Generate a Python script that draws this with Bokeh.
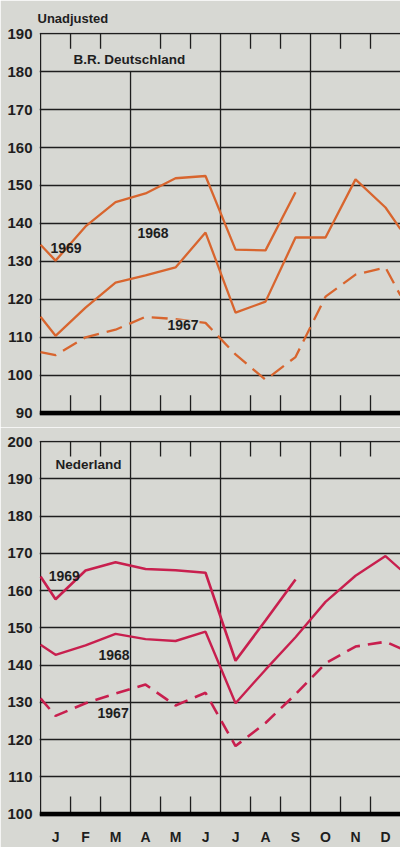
from bokeh.plotting import figure
from bokeh.models import Range1d, FixedTicker, Label, Span
from bokeh.layouts import column
from bokeh.embed import file_html
from bokeh.resources import INLINE

# ---------------- data ----------------
months = ["J", "F", "M", "A", "M", "J", "J", "A", "S", "O", "N", "D"]

# B.R. Deutschland (index, unadjusted)
de_1969_start = 134.4
de_1969 = [130.2, 139.2, 145.6, 147.9, 151.9, 152.5, 133.1, 132.9, 148.2]
de_1968_start = 115.4
de_1968 = [110.4, 117.8, 124.4, 126.3, 128.4, 137.6, 116.5, 119.4, 136.3, 136.3, 151.6, 144.2]
de_1968_end = 138.5
de_1967_start = 106.1
de_1967 = [105.3, 110.0, 112.0, 115.4, 114.8, 113.8, 105.5, 98.8, 104.8, 120.7, 126.5, 128.4]
de_1967_end = 121.0

# Nederland
nl_1969_start = 163.8
nl_1969 = [157.7, 165.4, 167.6, 165.8, 165.5, 164.8, 141.2, 152.0, 163.0]
nl_1968_start = 145.5
nl_1968 = [142.8, 145.3, 148.4, 147.0, 146.5, 149.0, 129.8, 138.8, 147.5, 157.0, 164.0, 169.3]
nl_1968_end = 165.7
nl_1967_start = 131.1
nl_1967 = [126.4, 129.8, 132.4, 134.8, 129.2, 132.6, 118.3, 124.5, 132.2, 140.5, 145.0, 146.3]
nl_1967_end = 144.5

de_ticks = list(range(90, 191, 10))
nl_ticks = list(range(100, 201, 10))

# ---------------- style ----------------
BG = "#d7d8d3"
INK = "#1e1e1e"
ORANGE = "#d8652e"
CRIMSON = "#c81f4e"
FONT = "Liberation Sans"
W = 400


def series_x(n, start=True, end=False):
    xs = ([0.0] if start else []) + [i + 0.5 for i in range(n)]
    if end:
        xs.append(12.0)
    return xs


def make_panel(height, b_top, b_bot, ticks, frame_h, gap_top_quarter=None):
    lo, hi = ticks[0], ticks[-1]
    p = figure(width=W, height=height,
               x_range=Range1d(-0.035, 12.0),
               y_range=Range1d(lo - 0.6, hi + 0.3),
               output_backend="svg", toolbar_location=None,
               min_border_left=39, min_border_right=0,
               min_border_top=b_top, min_border_bottom=b_bot)
    p.background_fill_color = BG
    p.border_fill_color = BG
    p.outline_line_color = None
    p.xgrid.visible = False
    p.ygrid.ticker = FixedTicker(ticks=ticks)
    p.ygrid.grid_line_color = INK
    p.ygrid.grid_line_width = 1.3
    ax = p.yaxis[0]
    ax.ticker = FixedTicker(ticks=ticks)
    ax.axis_line_color = None
    ax.major_tick_line_color = None
    ax.minor_tick_line_color = None
    ax.major_tick_out = 0
    ax.major_tick_in = 0
    ax.minor_tick_out = 0
    ax.major_label_standoff = 7
    ax.major_label_text_font = FONT
    ax.major_label_text_font_size = "15px"
    ax.major_label_text_font_style = "bold"
    ax.major_label_text_color = INK

    upp = (hi - lo + 0.9) / frame_h  # data units per pixel
    # left frame line
    p.segment(x0=[0], x1=[0], y0=[lo], y1=[hi], line_color=INK, line_width=1.3)
    # quarter lines
    tops = [hi, hi, hi]
    if gap_top_quarter is not None:
        tops[0] = gap_top_quarter
    p.segment(x0=[3, 6, 9], x1=[3, 6, 9], y0=[lo] * 3, y1=tops,
              line_color=INK, line_width=1.3)
    # small month ticks
    bnds = [b for b in range(1, 12) if b % 3 != 0]
    p.segment(x0=bnds, x1=bnds, y0=[hi] * len(bnds), y1=[hi - 15 * upp] * len(bnds),
              line_color=INK, line_width=1.3)
    p.segment(x0=bnds, x1=bnds, y0=[lo] * len(bnds), y1=[lo + 18 * upp] * len(bnds),
              line_color=INK, line_width=1.3)
    # thick base line
    p.add_layout(Span(location=lo, dimension="width", line_color="#000000", line_width=5))
    return p


def add_label(p, text, x, y, size="14px", bold=True, bg=None):
    lab = Label(x=x, y=y, text=text, text_font=FONT, text_font_size=size,
                text_font_style="bold" if bold else "normal",
                text_color=INK, text_baseline="middle", text_align="left")
    if bg is not None:
        lab.background_fill_color = bg
    p.add_layout(lab)


# ---------------- top panel: B.R. Deutschland ----------------
p1 = make_panel(427, 32, 12, de_ticks, 383, gap_top_quarter=180)
p1.xaxis.visible = False
p1.title.text = "Unadjusted"
p1.title.align = "left"
p1.title.offset = -2
p1.title.standoff = 14
p1.title.text_font = FONT
p1.title.text_font_size = "13px"
p1.title.text_font_style = "bold"
p1.title.text_color = INK

p1.line(series_x(len(de_1967), end=True), [de_1967_start] + de_1967 + [de_1967_end],
        line_color=ORANGE, line_width=2.3, line_dash="16 8")
p1.line(series_x(len(de_1968), end=True), [de_1968_start] + de_1968 + [de_1968_end],
        line_color=ORANGE, line_width=2.3)
p1.line(series_x(len(de_1969)), [de_1969_start] + de_1969,
        line_color=ORANGE, line_width=2.3)

add_label(p1, "B.R. Deutschland", 1.1, 183.1, size="13.5px")
add_label(p1, "1969", 0.33, 133.5)
add_label(p1, "1968", 3.23, 137.5)
add_label(p1, "1967", 4.23, 113.3, bg=BG)

# ---------------- bottom panel: Nederland ----------------
p2 = make_panel(420, 13, 28, nl_ticks, 379)
xa = p2.xaxis[0]
xa.ticker = FixedTicker(ticks=[i + 0.5 for i in range(12)])
xa.major_label_overrides = {i + 0.5: m for i, m in enumerate(months)}
xa.axis_line_color = None
xa.major_tick_line_color = None
xa.minor_tick_line_color = None
xa.major_tick_out = 0
xa.major_tick_in = 0
xa.minor_tick_out = 0
xa.major_label_standoff = 12
xa.major_label_text_font = FONT
xa.major_label_text_font_size = "14px"
xa.major_label_text_font_style = "bold"
xa.major_label_text_color = INK

p2.line(series_x(len(nl_1967), end=True), [nl_1967_start] + nl_1967 + [nl_1967_end],
        line_color=CRIMSON, line_width=2.6, line_dash="14 8")
p2.line(series_x(len(nl_1968), end=True), [nl_1968_start] + nl_1968 + [nl_1968_end],
        line_color=CRIMSON, line_width=2.4)
p2.line(series_x(len(nl_1969)), [nl_1969_start] + nl_1969,
        line_color=CRIMSON, line_width=2.6)

add_label(p2, "Nederland", 0.5, 193.9, size="13.5px")
add_label(p2, "1969", 0.27, 164.0)
add_label(p2, "1968", 1.93, 142.7)
add_label(p2, "1967", 1.9, 127.1)

layout = column(p1, p2, spacing=0)
open("out.html", "w").write(file_html(layout, INLINE))
